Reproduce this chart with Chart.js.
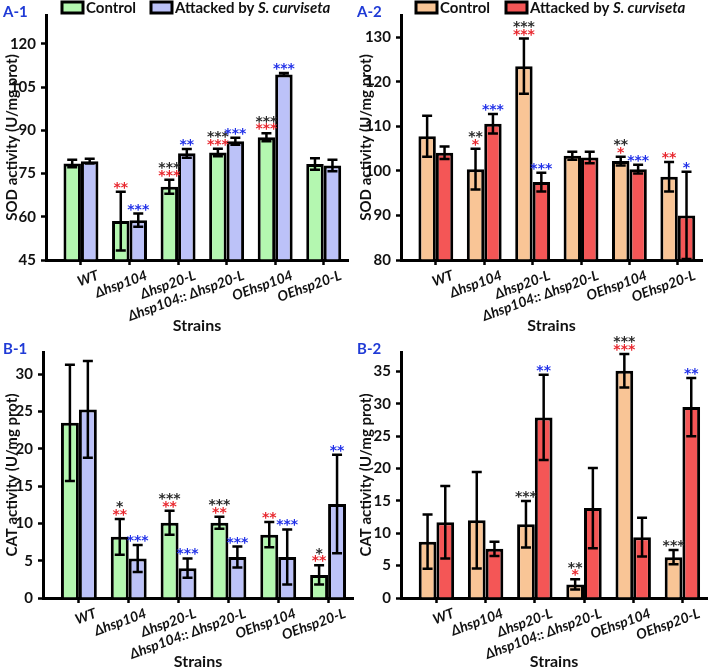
<!DOCTYPE html>
<html>
<head>
<meta charset="utf-8">
<script src="https://cdn.jsdelivr.net/npm/chart.js@4.4.1/dist/chart.umd.min.js"></script>
<style>
  body { margin: 0; background: #fff; }
  #wrap { position: relative; width: 709px; height: 671px; }
  canvas { position: absolute; }
</style>
</head>
<body>
<div id="wrap">
  <canvas id="a1" width="354" height="335" style="left:0;top:0"></canvas>
  <canvas id="a2" width="355" height="335" style="left:354px;top:0"></canvas>
  <canvas id="b1" width="354" height="336" style="left:0;top:335px"></canvas>
  <canvas id="b2" width="355" height="336" style="left:354px;top:335px"></canvas>
</div>
<script>
// categories
const strains = ['WT', 'Δhsp104', 'Δhsp20-L', 'Δhsp104:: Δhsp20-L', 'OEhsp104', 'OEhsp20-L'];

// A-1 SOD
const sodCtrl1 = [78.5, 58.5, 70.4, 82.3, 87.6, 78.3];
const sodCtrl1Err = [1.3, 10.2, 2.4, 1.3, 1.4, 2.0];
const sodAtt1 = [79.3, 58.8, 82.0, 86.2, 109.4, 77.8];
const sodAtt1Err = [0.8, 2.3, 1.5, 1.2, 0.5, 2.0];

// A-2 SOD
const sodCtrl2 = [107.8, 100.4, 123.5, 103.4, 102.2, 98.7];
const sodCtrl2Err = [4.6, 4.6, 6.2, 0.9, 1.0, 3.3];
const sodAtt2 = [104.1, 110.6, 97.5, 103.0, 100.4, 90.0];
const sodAtt2Err = [1.4, 2.2, 2.1, 1.3, 1.0, 9.8];

// B-1 CAT
const catCtrl1 = [23.5, 8.2, 10.1, 10.1, 8.5, 3.1];
const catCtrl1Err = [7.8, 2.4, 1.6, 0.8, 1.7, 1.3];
const catAtt1 = [25.3, 5.3, 4.0, 5.5, 5.5, 12.6];
const catAtt1Err = [6.5, 1.8, 1.3, 1.4, 3.7, 6.6];

// B-2 CAT
const catCtrl2 = [8.7, 12.0, 11.4, 2.1, 35.1, 6.3];
const catCtrl2Err = [4.2, 7.45, 3.6, 0.8, 2.6, 1.1];
const catAtt2 = [11.7, 7.6, 27.9, 13.9, 9.4, 29.5];
const catAtt2Err = [5.6, 1.1, 6.6, 6.2, 3.0, 4.5];

// significance stars (number of * per bar): K = black, R = red, B = blue
const a1StarK = [0, 0, 3, 3, 3, 0], a1StarR = [0, 2, 3, 3, 3, 0], a1StarB = [0, 3, 2, 3, 3, 0];
const a2StarK = [0, 2, 3, 0, 2, 0], a2StarR = [0, 1, 3, 0, 1, 2], a2StarB = [0, 3, 3, 0, 3, 1];
const b1StarK = [0, 1, 3, 3, 0, 1], b1StarR = [0, 2, 2, 2, 2, 2], b1StarB = [0, 3, 3, 3, 3, 2];
const b2StarK = [0, 0, 3, 2, 3, 3], b2StarR = [0, 0, 0, 1, 3, 0], b2StarB = [0, 0, 2, 0, 0, 2];

const GREEN = '#b4f7b0', LAVENDER = '#bcc2f8', PEACH = '#f9c596', RED = '#f45656';
const STAR_K = '#2a2a2a', STAR_R = '#e8262d', STAR_B = '#2030e8';
const LABEL_BLUE = '#1f3ad6';

const errorBars = {
    id: 'errorBars',
    afterDatasetsDraw(chart) {
        const ctx = chart.ctx;
        const y = chart.scales.y;
        ctx.save();
        ctx.strokeStyle = '#000';
        ctx.lineWidth = 2.5;
        chart.data.datasets.forEach((ds, d) => {
            chart.getDatasetMeta(d).data.forEach((bar, i) => {
                const v = ds.data[i].y, e = ds.err[i];
                const top = y.getPixelForValue(v + e);
                const bot = y.getPixelForValue(Math.max(v - e, y.min));
                ctx.beginPath();
                ctx.moveTo(bar.x, top); ctx.lineTo(bar.x, bot);
                ctx.moveTo(bar.x - 5, top); ctx.lineTo(bar.x + 5, top);
                ctx.moveTo(bar.x - 5, bot); ctx.lineTo(bar.x + 5, bot);
                ctx.stroke();
            });
        });
        ctx.restore();
    }
};

const sigStars = {
    id: 'sigStars',
    afterDatasetsDraw(chart) {
        const ctx = chart.ctx;
        const y = chart.scales.y;
        ctx.save();
        ctx.font = 'bold 14px "DejaVu Sans"';
        ctx.textAlign = 'center';
        ctx.textBaseline = 'alphabetic';
        chart.data.datasets.forEach((ds, d) => {
            chart.getDatasetMeta(d).data.forEach((bar, i) => {
                let cy = y.getPixelForValue(ds.data[i].y + ds.err[i]) - 6.5;
                ds.stars.forEach(([counts, color]) => {
                    if (!counts[i]) return;
                    const txt = '*'.repeat(counts[i]);
                    const m = ctx.measureText(txt);
                    ctx.fillStyle = color;
                    ctx.fillText(txt, bar.x, cy + (m.actualBoundingBoxAscent - m.actualBoundingBoxDescent) / 2);
                    cy -= 7.5;
                });
            });
        });
        ctx.restore();
    }
};

// panel tag and (for the top row) the legend with the italic species name
const decor = {
    id: 'decor',
    afterDraw(chart) {
        const opt = chart.options.plugins.decor;
        const ctx = chart.ctx;
        ctx.save();
        ctx.textBaseline = 'middle';
        ctx.fillStyle = LABEL_BLUE;
        ctx.font = 'bold 15px Lato';
        ctx.fillText(opt.tag, 3, opt.tagY);
        if (opt.legend) {
            opt.legend.forEach(item => {
                ctx.fillStyle = item.color;
                ctx.fillRect(item.box, 2, 21, 11);
                ctx.strokeStyle = '#000';
                ctx.lineWidth = 3;
                ctx.strokeRect(item.box, 2, 21, 11);
                ctx.fillStyle = '#111';
                let x = item.box + 24;
                ctx.font = 'bold 15px Lato';
                ctx.fillText(item.text, x, 8);
                if (item.italic) {
                    x += ctx.measureText(item.text).width;
                    ctx.font = 'italic bold 15px Lato';
                    ctx.fillText(item.italic, x, 8);
                }
            });
        }
        ctx.restore();
    }
};

function makePanel(id, p) {
    const canvas = document.getElementById(id);
    const W = canvas.width, H = canvas.height;
    const toPts = vals => vals.map((v, i) => ({ x: i, y: v }));

    return new Chart(canvas, {
        type: 'bar',
        data: {
            datasets: [
                {
                    label: 'Control',
                    data: toPts(p.ctrl),
                    err: p.ctrlErr,
                    stars: [[p.starR, STAR_R], [p.starK, STAR_K]],
                    backgroundColor: p.colors[0],
                    borderColor: '#000',
                    borderWidth: 3,
                    base: p.yMin,
                },
                {
                    label: 'Attacked by S. curviseta',
                    data: toPts(p.att),
                    err: p.attErr,
                    stars: [[p.starB, STAR_B]],
                    backgroundColor: p.colors[1],
                    borderColor: '#000',
                    borderWidth: 3,
                    base: p.yMin,
                },
            ],
        },
        options: {
            responsive: false,
            animation: false,
            categoryPercentage: 0.72,
            barPercentage: 1.0,
            layout: {
                padding: { left: 0, top: p.area[1], right: W - p.area[2], bottom: 0 },
            },
            scales: {
                x: {
                    type: 'linear',
                    offset: false,
                    min: -0.72,
                    max: 5.5,
                    afterBuildTicks: s => { s.ticks = strains.map((_, i) => ({ value: i })); },
                    afterFit: s => { s.height = H - p.area[3]; },
                    ticks: {
                        autoSkip: false,
                        minRotation: 20,
                        maxRotation: 20,
                        padding: 2,
                        labelOffset: 17,
                        color: '#111',
                        font: { family: 'Lato', size: 14, weight: 'bold', style: 'italic' },
                        callback: v => strains[v],
                    },
                    grid: { offset: false, drawOnChartArea: false, tickLength: 5, tickWidth: 2.5, tickColor: '#000' },
                    border: { color: '#000', width: 3 },
                    title: {
                        display: true,
                        text: 'Strains',
                        color: '#111',
                        font: { family: 'Lato', size: 16, weight: 'bold' },
                        padding: { top: 0, bottom: 0 },
                    },
                },
                y: {
                    min: p.yMin,
                    max: p.yMax,
                    afterBuildTicks: s => {
                        const t = [];
                        for (let v = p.yMin; v <= p.yMax; v += p.step) t.push({ value: v });
                        s.ticks = t;
                    },
                    afterFit: s => { s.width = p.area[0]; },
                    ticks: {
                        padding: 5,
                        color: '#111',
                        font: { family: 'Lato', size: 15, weight: 'bold' },
                    },
                    grid: { drawOnChartArea: false, tickLength: 5, tickWidth: 2.5, tickColor: '#000' },
                    border: { color: '#000', width: 3 },
                    title: {
                        display: true,
                        text: p.yTitle,
                        color: '#111',
                        font: { family: 'Lato', size: 15, weight: 'bold' },
                        padding: { top: 3, bottom: 0 },
                    },
                },
            },
            plugins: {
                legend: { display: false },
                tooltip: { enabled: false },
                decor: { tag: p.tag, tagY: p.tagY, legend: p.legend },
            },
        },
        plugins: [errorBars, sigStars, decor],
    });
}

makePanel('a1', {
    tag: 'A-1', tagY: 12,
    ctrl: sodCtrl1, ctrlErr: sodCtrl1Err, att: sodAtt1, attErr: sodAtt1Err,
    starK: a1StarK, starR: a1StarR, starB: a1StarB,
    colors: [GREEN, LAVENDER],
    yMin: 45, yMax: 130, step: 15, yTitle: 'SOD activity (U/mg prot)',
    area: [46, 15, 348, 260],
    legend: [
        { box: 62, color: GREEN, text: 'Control' },
        { box: 151, color: LAVENDER, text: 'Attacked by ', italic: 'S. curviseta' },
    ],
});

makePanel('a2', {
    tag: 'A-2', tagY: 12,
    ctrl: sodCtrl2, ctrlErr: sodCtrl2Err, att: sodAtt2, attErr: sodAtt2Err,
    starK: a2StarK, starR: a2StarR, starB: a2StarB,
    colors: [PEACH, RED],
    yMin: 80, yMax: 135, step: 10, yTitle: 'SOD activity (U/mg prot)',
    area: [47, 15, 348, 260],
    legend: [
        { box: 62, color: PEACH, text: 'Control' },
        { box: 152, color: RED, text: 'Attacked by ', italic: 'S. curviseta' },
    ],
});

makePanel('b1', {
    tag: 'B-1', tagY: 14,
    ctrl: catCtrl1, ctrlErr: catCtrl1Err, att: catAtt1, attErr: catAtt1Err,
    starK: b1StarK, starR: b1StarR, starB: b1StarB,
    colors: [GREEN, LAVENDER],
    yMin: 0, yMax: 33, step: 5, yTitle: 'CAT activity (U/mg prot)',
    area: [43, 17, 353, 263],
});

makePanel('b2', {
    tag: 'B-2', tagY: 14,
    ctrl: catCtrl2, ctrlErr: catCtrl2Err, att: catAtt2, attErr: catAtt2Err,
    starK: b2StarK, starR: b2StarR, starB: b2StarB,
    colors: [PEACH, RED],
    yMin: 0, yMax: 38, step: 5, yTitle: 'CAT activity (U/mg prot)',
    area: [47, 17, 353, 263],
});
</script>
</body>
</html>
